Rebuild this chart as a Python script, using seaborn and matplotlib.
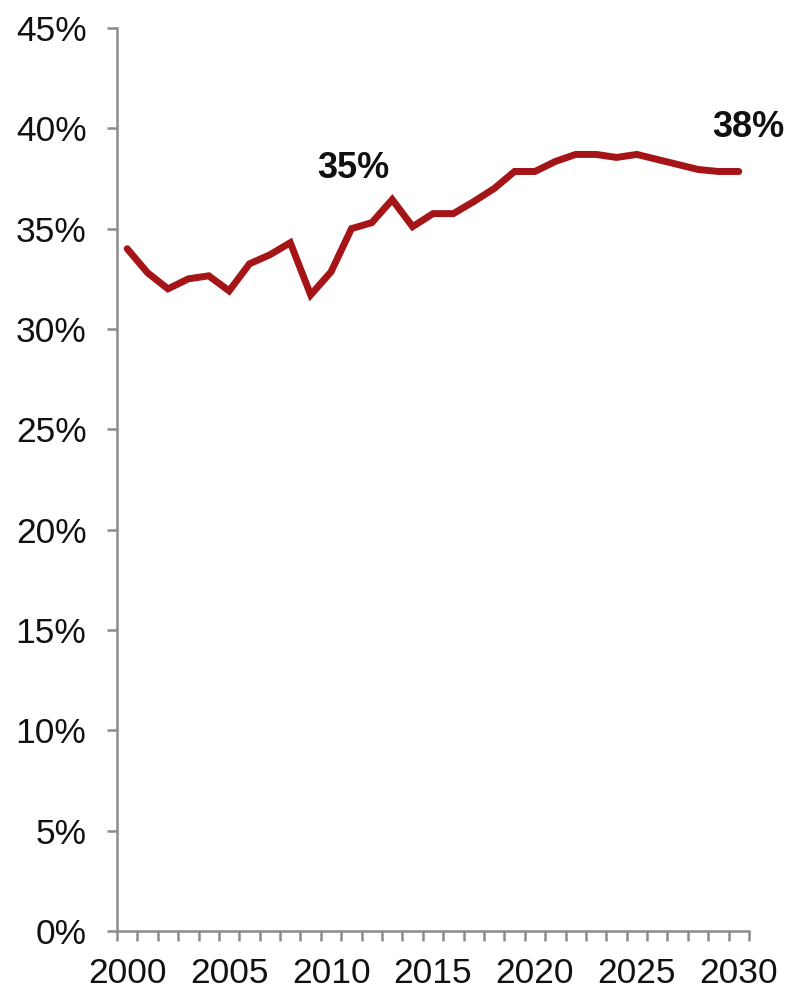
import numpy as np
import matplotlib
matplotlib.use("Agg")
import matplotlib.pyplot as plt
from matplotlib.ticker import FixedLocator, FuncFormatter
import seaborn as sns
import pandas as pd

years = list(range(2000, 2031))
share = [34.0, 32.8, 32.0, 32.5, 32.65, 31.9, 33.25, 33.7, 34.3, 31.7,
         32.85, 35.0, 35.3, 36.45, 35.1, 35.75, 35.75, 36.35, 37.0, 37.85,
         37.85, 38.35, 38.7, 38.7, 38.55, 38.7, 38.45, 38.2, 37.95, 37.85,
         37.85]
label_years = [2011, 2030]
y_ticks = list(range(0, 50, 5))
x_label_years = list(range(2000, 2031, 5))

sns.set_theme(style="white")
plt.rcParams["font.family"] = ["Liberation Sans", "DejaVu Sans"]

df = pd.DataFrame({"year": years, "share": share})

fig = plt.figure(figsize=(7.92, 9.92), dpi=100)
ax = fig.add_axes([117 / 792, 61 / 992, (749 - 117) / 792, (931 - 28) / 992])

sns.lineplot(data=df, x="year", y="share", ax=ax, color="#A51417",
             linewidth=5.0, solid_capstyle="round", solid_joinstyle="miter")

ax.set_xlim(years[0] - 0.5, years[-1] + 0.5)
ax.set_ylim(0, 45)
ax.set_xlabel("")
ax.set_ylabel("")

spine_color = "#8C8C8C"
for side in ["top", "right"]:
    ax.spines[side].set_visible(False)
for side in ["left", "bottom"]:
    ax.spines[side].set_color(spine_color)
    ax.spines[side].set_linewidth(1.8)

ax.set_yticks(y_ticks)
ax.yaxis.set_major_formatter(FuncFormatter(lambda v, p: f"{v:.0f}%"))
ax.tick_params(axis="y", which="major", direction="out", length=7, width=1.8,
               color=spine_color, labelsize=25.5, pad=15, left=True)

ax.set_xticks(x_label_years)
ax.xaxis.set_minor_locator(FixedLocator(np.arange(years[0] - 0.5, years[-1] + 1, 1.0)))
ax.tick_params(axis="x", which="major", length=0, labelsize=25.5, pad=19)
ax.tick_params(axis="x", which="minor", direction="out", length=7, width=1.8,
               color=spine_color, bottom=True)
for lab in ax.get_xticklabels() + ax.get_yticklabels():
    lab.set_color("#111111")

# value labels: (dx, dy) offsets in points above the labelled point
label_offsets = {2011: (1, 31), 2030: (7, 19)}
for yr in label_years:
    v = share[years.index(yr)]
    ax.annotate(f"{v:.0f}%", xy=(yr, v), xytext=label_offsets[yr],
                textcoords="offset points", ha="center", va="bottom",
                fontsize=26, fontweight="bold", color="#111111")

fig.savefig("out.png", dpi=100)
